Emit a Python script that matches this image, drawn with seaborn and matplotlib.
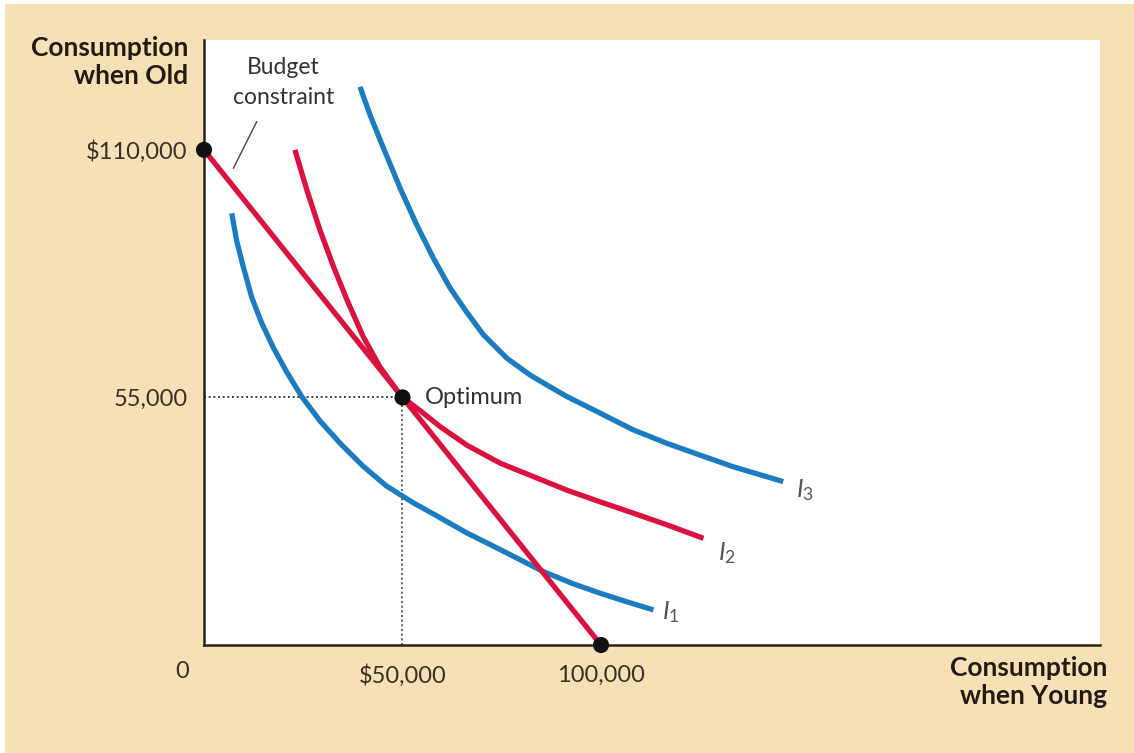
import numpy as np
import pandas as pd
import seaborn as sns
import matplotlib.pyplot as plt
from matplotlib.patches import Rectangle

# values
budget_x = [0, 100000]
budget_y = [110000, 0]

i1_x = [7000, 8200, 9900, 12000, 14500, 17500, 20800, 24600, 29200, 34300, 40100,
        46000, 52700, 57800, 66200, 74600, 85500, 93000, 99800, 106500, 113200]
i1_y = [95900, 89900, 84000, 77300, 71600, 66000, 60700, 55200, 49800, 44800, 39700,
        35300, 31600, 29100, 24900, 21200, 16300, 13600, 11500, 9600, 7800]

i2_x = [22900, 25900, 29200, 32600, 36000, 40100, 44300, 48500, 50000, 54400, 59500,
        66200, 74600, 83000, 91400, 99800, 108100, 116600, 125800]
i2_y = [110000, 101100, 92200, 84100, 76700, 68500, 61800, 56700, 55000, 52100, 48500,
        44400, 40400, 37400, 34400, 31800, 29300, 26700, 23700]

i3_x = [39300, 41800, 45200, 49400, 53600, 57800, 62000, 66200, 70400, 76300, 82100,
        86300, 91400, 99800, 108100, 116600, 124900, 133300, 145900]
i3_y = [124000, 117800, 110400, 101500, 93300, 85900, 79300, 73900, 68900, 63700, 60000,
        57800, 55200, 51500, 47800, 44800, 42200, 39600, 36300]

dot_x = [0, 50000, 100000]
dot_y = [110000, 55000, 0]

xtick_vals = [50000, 100000]
xtick_labels = ["$50,000", "100,000"]
ytick_vals = [55000, 110000]
ytick_labels = ["55,000", "$110,000"]

RED = "#dc1140"
BLUE = "#1c7cc2"
CREAM = "#f6e0b6"
TXT = "#3a3026"

sns.set_theme(style="white")
plt.rcParams["font.family"] = ["Lato", "DejaVu Sans"]
plt.rcParams["mathtext.fontset"] = "custom"
plt.rcParams["mathtext.it"] = "Lato:italic"
plt.rcParams["mathtext.rm"] = "Lato"

fig = plt.figure(figsize=(11.34, 7.53), dpi=100, facecolor="white")
fig.patches.append(Rectangle((0.004, 0), 0.996, 0.995, transform=fig.transFigure,
                             facecolor=CREAM, edgecolor="none", zorder=-10))
ax = fig.add_axes([204 / 1134, 1 - 645 / 753, 896 / 1134, 605 / 753])
ax.set_facecolor("white")

curves = [
    (i1_x, i1_y, BLUE),
    (i2_x, i2_y, RED),
    (i3_x, i3_y, BLUE),
    (budget_x, budget_y, RED),
]
for xs, ys, col in curves:
    df = pd.DataFrame({"x": xs, "y": ys})
    sns.lineplot(data=df, x="x", y="y", sort=False, estimator=None, ax=ax,
                 color=col, linewidth=3.8, solid_capstyle="butt",
                 solid_joinstyle="round")

# dotted guide lines to the optimum
ax.plot([0, dot_x[1]], [dot_y[1], dot_y[1]], color="#222222", lw=1.2,
        ls=(0, (1.2, 1.6)), zorder=1)
ax.plot([dot_x[1], dot_x[1]], [0, dot_y[1]], color="#444444", lw=1.2,
        ls=(0, (1.2, 1.6)), zorder=1)

sns.scatterplot(x=dot_x, y=dot_y, ax=ax, color="#111111", s=135,
                edgecolor="none", zorder=5, clip_on=False)

ax.set_xlim(0, 225700)
ax.set_ylim(0, 134400)

ax.set_xticks(xtick_vals)
ax.set_xticklabels(xtick_labels)
ax.set_yticks(ytick_vals)
ax.set_yticklabels(ytick_labels)
ax.tick_params(axis="both", length=0, labelsize=17, colors=TXT)
ax.tick_params(axis="x", pad=14)
ax.tick_params(axis="y", pad=12)
ax.set_xlabel("")
ax.set_ylabel("")

for s in ["top", "right"]:
    ax.spines[s].set_visible(False)
for s in ["left", "bottom"]:
    ax.spines[s].set_color("#2b2218")
    ax.spines[s].set_linewidth(1.8)

ax.text(-0.024, -0.044, "0", transform=ax.transAxes, ha="center", va="center",
        fontsize=17, color=TXT)

# axis titles
fig.text(188 / 1134, 1 - 36 / 753, "Consumption\nwhen Old", ha="right", va="top",
         fontsize=19, fontweight="bold", color="#231a12", linespacing=1.2)
fig.text(1107 / 1134, 1 - 656 / 753, "Consumption\nwhen Young", ha="right",
         va="top", fontsize=19, fontweight="bold", color="#231a12",
         linespacing=1.2)

# annotations
ax.text(55700, 55000, "Optimum", ha="left", va="center", fontsize=17,
        color="#333333")
ax.text(20000, 125000, "Budget\nconstraint", ha="center", va="center",
        fontsize=16.5, color="#333333", linespacing=1.5)
ax.plot([13300, 7400], [116300, 105900], color="#444444", lw=1.0)

ax.text(115400, 7300, r"$I_1$", ha="left", va="center", fontsize=18, color="#555555")
ax.text(129500, 20400, r"$I_2$", ha="left", va="center", fontsize=18, color="#555555")
ax.text(149100, 34400, r"$I_3$", ha="left", va="center", fontsize=18, color="#555555")

fig.savefig("out.png", dpi=100, facecolor=fig.get_facecolor())
